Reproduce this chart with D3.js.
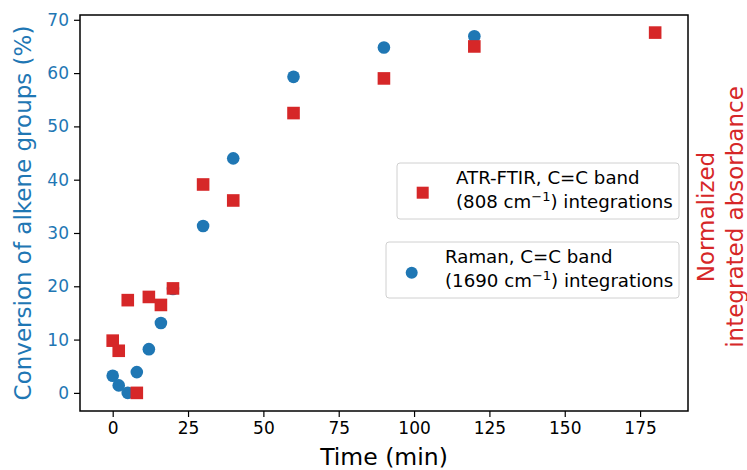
<!DOCTYPE html>
<html>
<head>
<meta charset="utf-8">
<script src="https://cdn.jsdelivr.net/npm/d3@7"></script>
<style>
  body { margin: 0; background: #fff; }
  svg { font-family: "DejaVu Sans", sans-serif; }
</style>
</head>
<body>
<script>
// Raman, C=C band (1690 cm-1)
var ramanTime = [0, 2, 5, 8, 12, 16, 20, 30, 40, 60, 90, 120];
var ramanConv = [3.2, 1.4, 0, 3.9, 8.2, 13.1, 19.5, 31.3, 44.0, 59.3, 64.8, 66.9];

// ATR-FTIR, C=C band (808 cm-1)
var atrTime = [0, 2, 5, 8, 12, 16, 20, 30, 40, 60, 90, 120, 180];
var atrConv = [9.8, 7.9, 17.4, 0, 18.0, 16.5, 19.6, 39.1, 36.1, 52.5, 59.0, 65.0, 67.6];

var xTicks = [0, 25, 50, 75, 100, 125, 150, 175];
var yTicks = [0, 10, 20, 30, 40, 50, 60, 70];

var blue = "#1f77b4", red = "#d62728";

var W = 747, H = 470;
var pl = 80, pr = 688, pt = 15, pb = 411;

var svg = d3.select("body").append("svg")
    .attr("width", W)
    .attr("height", H);

var x = d3.scaleLinear().domain([-10.85, 190.9]).range([pl, pr]);
var y = d3.scaleLinear().domain([-3.4, 70.9]).range([pb, pt]);

// axes
var xAxis = svg.append("g")
    .attr("transform", "translate(0," + pb + ")")
    .call(d3.axisBottom(x).tickValues(xTicks).tickSize(6).tickPadding(5))
    .attr("font-size", 17)
    .attr("font-family", null);
xAxis.selectAll("text").attr("fill", "#000");

var yAxis = svg.append("g")
    .attr("transform", "translate(" + pl + ",0)")
    .call(d3.axisLeft(y).tickValues(yTicks).tickSize(6).tickPadding(5))
    .attr("font-size", 17)
    .attr("font-family", null);
yAxis.selectAll("text").attr("fill", blue);

svg.selectAll(".domain").remove();
svg.selectAll(".tick line").attr("stroke", "#000").attr("stroke-width", 1.2);

// frame
svg.append("rect")
    .attr("x", pl).attr("y", pt)
    .attr("width", pr - pl).attr("height", pb - pt)
    .attr("fill", "none").attr("stroke", "#000").attr("stroke-width", 1.5);

// Raman points
svg.append("g").selectAll("circle")
    .data(ramanTime)
    .join("circle")
    .attr("cx", function (d) { return x(d); })
    .attr("cy", function (d, i) { return y(ramanConv[i]); })
    .attr("r", 6.3)
    .attr("fill", blue);

// ATR points
var sq = 12.6;
svg.append("g").selectAll("rect")
    .data(atrTime)
    .join("rect")
    .attr("x", function (d) { return x(d) - sq / 2; })
    .attr("y", function (d, i) { return y(atrConv[i]) - sq / 2; })
    .attr("width", sq)
    .attr("height", sq)
    .attr("fill", red);

// axis labels
svg.append("text")
    .attr("x", (pl + pr) / 2)
    .attr("y", 465)
    .attr("text-anchor", "middle")
    .style("font-size", "23.5px")
    .text("Time (min)");

svg.append("text")
    .attr("transform", "translate(31," + ((pt + pb) / 2) + ") rotate(-90)")
    .attr("text-anchor", "middle")
    .style("font-size", "23px")
    .attr("fill", blue)
    .text("Conversion of alkene groups (%)");

var rl = svg.append("text")
    .attr("transform", "translate(714,217) rotate(-90)")
    .attr("text-anchor", "middle")
    .style("font-size", "23px")
    .attr("fill", red);
rl.append("tspan").attr("x", 0).attr("dy", 0).text("Normalized");
rl.append("tspan").attr("x", 0).attr("dy", 29).text("integrated absorbance");

// legends
function legendBox(bx, by, bw, bh, line1, num, mx, my, tx, shape, color) {
    var g = svg.append("g");
    g.append("rect")
        .attr("x", bx).attr("y", by)
        .attr("width", bw).attr("height", bh)
        .attr("rx", 3)
        .attr("fill", "#fff").attr("fill-opacity", 0.8)
        .attr("stroke", "#d0d0d0").attr("stroke-width", 1);
    if (shape == "square") {
        g.append("rect")
            .attr("x", mx - 6).attr("y", my - 6)
            .attr("width", 12).attr("height", 12)
            .attr("fill", color);
    } else {
        g.append("circle")
            .attr("cx", mx).attr("cy", my).attr("r", 6)
            .attr("fill", color);
    }
    g.append("text")
        .attr("x", tx).attr("y", by + 21)
        .style("font-size", "18.2px")
        .text(line1);
    var t2 = g.append("text")
        .attr("x", tx).attr("y", by + 45)
        .style("font-size", "18.2px");
    t2.append("tspan").text("(" + num + " cm");
    t2.append("tspan").attr("dy", -7).style("font-size", "13px").text("\u22121");
    t2.append("tspan").attr("dy", 7).text(") integrations");
}

legendBox(397, 163, 282, 56, "ATR-FTIR, C=C band", "808", 422.7, 192.7, 456, "square", red);
legendBox(386, 242, 293, 56, "Raman, C=C band", "1690", 411.7, 272.7, 445, "circle", blue);
</script>
</body>
</html>
